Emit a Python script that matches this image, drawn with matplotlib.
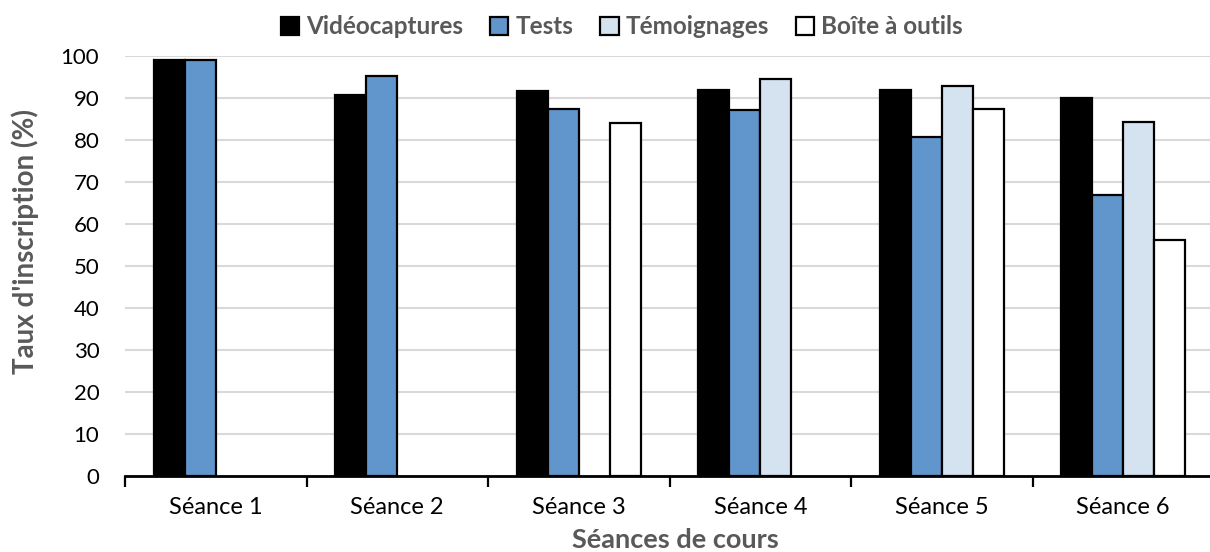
import matplotlib
matplotlib.use("Agg")
import matplotlib.pyplot as plt
import numpy as np

categories = ["Séance 1", "Séance 2", "Séance 3", "Séance 4", "Séance 5", "Séance 6"]
series_names = ["Vidéocaptures", "Tests", "Témoignages", "Boîte à outils"]
videocaptures = [99.0, 90.8, 91.6, 91.8, 91.8, 89.9]
tests = [99.0, 95.3, 87.5, 87.1, 80.7, 66.8]
temoignages = [np.nan, np.nan, np.nan, 94.5, 92.8, 84.4]
boite = [np.nan, np.nan, 84.1, np.nan, 87.5, 56.2]
colors = ["#000000", "#6196CC", "#D5E3F1", "#FFFFFF"]
yticks = list(range(0, 101, 10))

plt.rcParams['font.family'] = ['Lato', 'DejaVu Sans']

W, H = 1210, 552
fig = plt.figure(figsize=(W / 100, H / 100), dpi=100)
left, right, bottom, top = 125, 1214, 476, 56
ax = fig.add_axes([left / W, 1 - bottom / H, (right - left) / W, (bottom - top) / H])

n = len(categories)
x = np.arange(n)
bw = 0.171
data = [videocaptures, tests, temoignages, boite]
for i, (vals, c, name) in enumerate(zip(data, colors, series_names)):
    offs = (i - 1.5) * bw
    ax.bar(x + offs, vals, width=bw, color=c, edgecolor="black", linewidth=1.6,
           label=name, zorder=3)

ax.set_xlim(-0.5, n - 0.5)
ax.set_ylim(0, 100)
ax.set_yticks(yticks)
ax.set_yticklabels([str(t) for t in yticks], fontsize=16, color="black")
ax.yaxis.grid(True, color="#D9D9D9", linewidth=1.5, zorder=0)
ax.set_axisbelow(True)
ax.tick_params(axis="y", length=0, pad=18.5)

ax.set_xticks(np.arange(-0.5, n, 1.0))
ax.set_xticklabels([])
ax.set_xticks(x, minor=True)
ax.set_xticklabels(categories, minor=True, fontsize=17, color="black")
ax.tick_params(axis="x", which="major", direction="out", length=8, width=1.6, color="black")
ax.tick_params(axis="x", which="minor", length=0, pad=15)

for s in ["left", "right", "top"]:
    ax.spines[s].set_visible(False)
ax.spines["bottom"].set_color("black")
ax.spines["bottom"].set_linewidth(2)
ax.spines["bottom"].set_zorder(4)

fig.text(675 / W, 1 - 540 / H, "Séances de cours", ha="center", va="center",
         fontsize=19.5, fontweight="bold", color="#595959")
fig.text(25 / W, 1 - 242 / H, "Taux d'inscription (%)", ha="center", va="center",
         rotation=90, fontsize=20, fontweight="bold", color="#595959")

leg = fig.legend(loc="center", bbox_to_anchor=(622 / W, 1 - 27 / H), ncol=4,
                 frameon=False, prop={"size": 17.5, "weight": "bold"},
                 handlelength=0.75, handleheight=0.75, handletextpad=0.3,
                 columnspacing=1.1)
for t in leg.get_texts():
    t.set_color("#595959")

fig.savefig("out.png", dpi=100)
